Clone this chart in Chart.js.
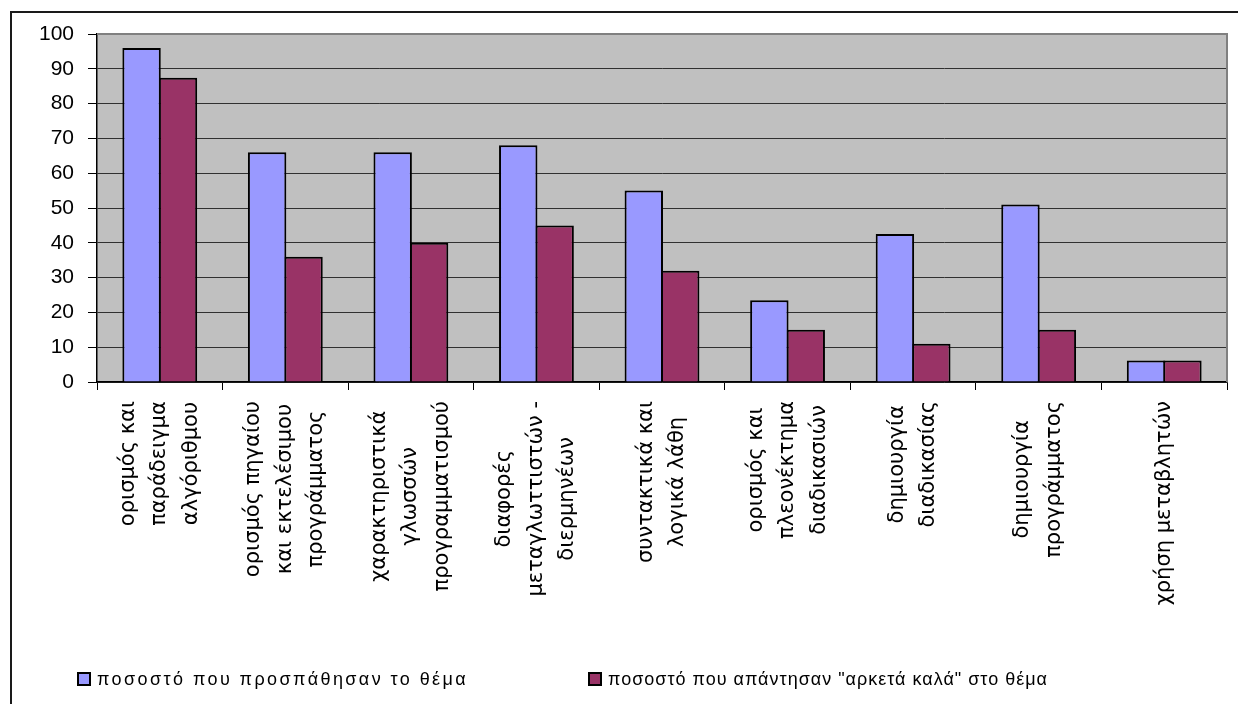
<!DOCTYPE html>
<html>
<head>
<meta charset="utf-8">
<title>Ποσοστά ανά θέμα</title>
<script src="https://cdn.jsdelivr.net/npm/chart.js@4.4.1/dist/chart.umd.min.js"></script>
<style>
  html, body { margin: 0; padding: 0; background: #ffffff; }
  #wrap { width: 1238px; height: 704px; position: relative; }
</style>
</head>
<body>
<div id="wrap"><canvas id="c" width="1238" height="704"></canvas></div>
<script>
// Θέματα (κάθε στοιχείο είναι μία ετικέτα σε γραμμές)
const topics = [
  ['ορισμός και', 'παράδειγμα', 'αλγόριθμου'],
  ['ορισμός πηγαίου', 'και εκτελέσιμου', 'προγράμματος'],
  ['χαρακτηριστικά', 'γλωσσών', 'προγραμματισμού'],
  ['διαφορές', 'μεταγλωττιστών -', 'διερμηνέων'],
  ['συντακτικά και', 'λογικά λάθη'],
  ['ορισμός και', 'πλεονέκτημα', 'διαδικασιών'],
  ['δημιουργία', 'διαδικασίας'],
  ['δημιουργία', 'προγράμματος'],
  ['χρήση μεταβλητών']
];

// Ποσοστό μαθητών που προσπάθησαν το θέμα
const attempted = [96, 66, 66, 68, 55, 23.5, 42.5, 51, 6.2];

// Ποσοστό μαθητών που απάντησαν "αρκετά καλά"
const answeredWell = [87.4, 36, 40, 45, 32, 15, 11, 15, 6.2];

const seriesNames = [
  'ποσοστό που προσπάθησαν το θέμα',
  'ποσοστό που απάντησαν "αρκετά καλά" στο θέμα'
];

const yTickValues = [0, 10, 20, 30, 40, 50, 60, 70, 80, 90, 100];

const BLUE = '#9999FF';
const PLUM = '#993366';

function setSpacing(ctx, v) {
  if ('letterSpacing' in ctx) ctx.letterSpacing = v;
}

// Πλαίσιο, φόντο περιοχής σχεδίασης, ετικέτες κατηγοριών και υπόμνημα
const decorations = {
  id: 'decorations',
  beforeDraw(chart) {
    const { ctx, chartArea: a } = chart;
    ctx.save();
    setSpacing(ctx, '0px');
    ctx.fillStyle = '#ffffff';
    ctx.fillRect(0, 0, chart.width, chart.height);
    // εξωτερικό πλαίσιο γραφήματος
    ctx.strokeStyle = '#1a1a1a';
    ctx.lineWidth = 2;
    ctx.strokeRect(11, 12, chart.width + 40, chart.height + 40);
    // γκρι φόντο περιοχής σχεδίασης
    ctx.fillStyle = '#C0C0C0';
    ctx.fillRect(a.left, a.top, a.right - a.left, a.bottom - a.top);
    ctx.restore();
  },
  afterDraw(chart) {
    const { ctx, chartArea: a } = chart;
    const xs = chart.scales.x;
    ctx.save();
    // γκρι περίγραμμα πάνω και δεξιά
    ctx.strokeStyle = '#808080';
    ctx.lineWidth = 2;
    ctx.beginPath();
    ctx.moveTo(a.left, a.top);
    ctx.lineTo(a.right, a.top);
    ctx.lineTo(a.right, a.bottom);
    ctx.stroke();

    // ετικέτες κατηγοριών, περιστραμμένες κατά 90°
    setSpacing(ctx, '0px');
    ctx.fillStyle = '#000000';
    ctx.font = '21px "DejaVu Sans"';
    ctx.textAlign = 'center';
    ctx.textBaseline = 'middle';
    const lineGap = 31.5;
    const top = a.bottom + 19;
    topics.forEach((lines, i) => {
      const cx = xs.getPixelForValue(i);
      const w = Math.max(...lines.map(l => ctx.measureText(l).width));
      ctx.save();
      ctx.translate(cx, top);
      ctx.rotate(-Math.PI / 2);
      lines.forEach((line, j) => {
        const off = (j - (lines.length - 1) / 2) * lineGap;
        ctx.fillText(line, -w / 2, off);
      });
      ctx.restore();
    });

    // υπόμνημα: τετράγωνο χρώματος και κείμενο σε σταθερό πλάτος
    const boxX = [77, 588];
    const textWidth = [371, 440];
    const midY = 679;
    ctx.font = '18px "Liberation Sans"';
    ctx.textAlign = 'left';
    ctx.textBaseline = 'middle';
    chart.data.datasets.forEach((ds, k) => {
      const bx = boxX[k];
      ctx.fillStyle = ds.backgroundColor;
      ctx.fillRect(bx, midY - 7, 14, 14);
      ctx.strokeStyle = '#000000';
      ctx.lineWidth = 2;
      ctx.strokeRect(bx + 1, midY - 6, 12, 12);
      setSpacing(ctx, '0px');
      const natural = ctx.measureText(ds.label).width;
      const chars = [...ds.label].length;
      const sp = Math.max(0, (textWidth[k] - natural) / chars);
      setSpacing(ctx, sp.toFixed(2) + 'px');
      ctx.fillStyle = '#000000';
      ctx.fillText(ds.label, bx + 20, midY + 1);
    });
    setSpacing(ctx, '0px');
    ctx.restore();
  }
};

new Chart(document.getElementById('c'), {
  type: 'bar',
  data: {
    labels: topics,
    datasets: [
      {
        label: seriesNames[0],
        data: attempted,
        backgroundColor: BLUE,
        borderColor: '#000000',
        borderWidth: 2,
        borderSkipped: 'bottom'
      },
      {
        label: seriesNames[1],
        data: answeredWell,
        backgroundColor: PLUM,
        borderColor: '#000000',
        borderWidth: 2,
        borderSkipped: 'bottom'
      }
    ]
  },
  options: {
    responsive: false,
    animation: false,
    devicePixelRatio: 1,
    layout: { padding: { top: 34, right: 11, left: 0, bottom: 0 } },
    datasets: {
      bar: { categoryPercentage: 0.58, barPercentage: 1.055 }
    },
    plugins: {
      legend: { display: false },
      tooltip: { enabled: false }
    },
    scales: {
      x: {
        offset: true,
        grid: {
          offset: true,
          drawOnChartArea: false,
          drawTicks: true,
          tickLength: 8,
          tickColor: '#000000',
          color: '#000000'
        },
        border: { display: true, color: '#000000', width: 1.5 },
        ticks: { display: false },
        afterFit(scale) { scale.height = 322; }
      },
      y: {
        min: 0,
        max: 100,
        afterBuildTicks(scale) {
          scale.ticks = yTickValues.map(v => ({ value: v }));
        },
        grid: {
          color: '#303030',
          lineWidth: 1,
          drawTicks: true,
          tickLength: 9,
          tickColor: '#000000'
        },
        border: { display: true, color: '#000000', width: 1.5 },
        ticks: {
          color: '#000000',
          padding: 14,
          font: { family: '"Liberation Sans", Arial, sans-serif', size: 21 }
        },
        afterFit(scale) { scale.width = 97; }
      }
    }
  },
  plugins: [decorations]
});
</script>
</body>
</html>
